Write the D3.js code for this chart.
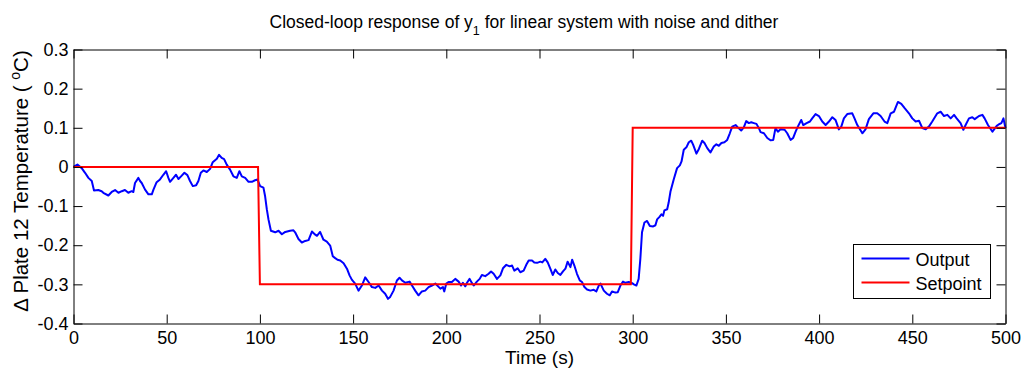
<!DOCTYPE html>
<html>
<head>
<meta charset="utf-8">
<script src="https://cdn.jsdelivr.net/npm/d3@7"></script>
<style>
  html, body { margin: 0; padding: 0; background: #fff; }
  svg { display: block; font-family: "Liberation Sans", Arial, Helvetica, sans-serif; }
</style>
</head>
<body>
<svg id="chart" width="1026" height="371"></svg>
<script>
// ---------------- data ----------------
const outputTime = [0,2.1,4.4,6.2,8.0,9.8,11.0,13.3,15.1,16.0,18.7,20.5,22.3,24.1,25.9,27.6,29.4,31.2,32.1,33.0,34.8,35.7,36.6,38.4,40.2,42.0,42.9,44.6,46.4,48.2,49.7,50.9,51.8,53.6,55.0,56.3,57.7,59.5,61.1,62.5,64.0,65.8,67.0,68.3,69.7,71.5,73.3,74.7,76.9,78.1,79.5,80.8,82.2,84.0,85.8,87.6,89.0,90.3,92.1,93.9,95.7,97.4,
98.7,100.1,101.9,102.8,103.7,104.6,105.9,108.2,110.0,111.8,113.6,116.2,118.0,118.9,120.7,122.5,124.3,126.1,127.9,129.7,130.6,132.3,133.2,134.1,135.9,137.7,139.1,140.4,141.6,143.1,144.9,146.7,148.1,149.3,151.1,152.9,154.7,156.5,158.3,160.1,161.9,163.7,165.5,167.2,168.7,169.9,171.7,173.5,174.9,176.2,178.0,180.3,182.1,183.3,185.1,186.9,188.7,190.5,192.3,194.1,
196.8,198.2,198.9,200.0,201.2,203.0,204.8,206.6,207.9,208.9,210.2,211.1,212.5,213.8,214.7,216.4,217.9,219.1,220.9,222.7,224.0,225.4,227.2,229.0,230.4,232.2,234.0,235.3,236.5,238.3,239.7,241.5,242.9,244.2,246.0,247.2,248.7,250.5,251.5,253.1,254.4,255.8,257.1,258.5,259.8,261.2,262.6,263.9,265.1,266.6,267.5,268.7,270.1,271.6,272.8,274.1,275.5,277.3,279.1,280.5,281.8,
282.7,284.5,286.2,287.7,288.9,290.7,292.0,293.4,294.8,296.1,297.9,299.7,300.6,302.0,303.2,304.1,305.0,306.3,307.7,309.2,311.0,312.2,313.1,314.5,315.4,316.3,317.0,318.5,319.3,320.3,322.0,323.8,325.3,326.2,327.4,328.8,330.1,331.4,332.4,334.2,335.5,337.3,338.5,340.0,341.7,343.5,344.9,346.2,347.6,349.2,350.7,352.1,353.4,355.2,356.4,358.2,359.6,360.9,362.3,363.6,365.0,366.4,367.7,368.6,370.4,372.2,373.9,375.4,376.6,377.9,379.3,
381.5,382.9,384.7,386.1,387.4,388.6,390.4,391.5,393.3,395.1,396.3,398.1,399.9,401.7,403.5,405.3,407.1,408.8,410.6,411.9,413.3,415.1,417.8,419.0,420.5,423.2,424.9,426.7,429.1,431.2,433.0,435.1,436.6,438.4,440.2,442.3,444.1,445.9,448.2,450.0,451.8,453.6,455.4,457.2,458.9,460.7,463.4,465.2,467.0,468.8,470.6,472.4,473.8,475.9,477.4,478.6,480.4,482.2,483.5,485.8,487.6,488.8,490.6,493.0,495.3,496.5,497.8,498.9,500.0];

const outputValue = [0.000,0.006,-0.003,-0.015,-0.028,-0.036,-0.060,-0.059,-0.062,-0.066,-0.073,-0.064,-0.059,-0.066,-0.062,-0.059,-0.066,-0.062,-0.064,-0.041,-0.028,-0.036,-0.041,-0.058,-0.070,-0.070,-0.058,-0.039,-0.032,-0.020,-0.011,-0.028,-0.038,-0.028,-0.020,-0.031,-0.024,-0.015,-0.021,-0.036,-0.049,-0.047,-0.036,-0.015,-0.009,-0.013,-0.005,0.012,0.021,0.031,0.023,0.020,0.006,-0.007,-0.024,-0.028,-0.011,-0.024,-0.028,-0.038,-0.038,-0.034,
-0.032,-0.049,-0.053,-0.075,-0.108,-0.134,-0.163,-0.167,-0.163,-0.172,-0.166,-0.163,-0.162,-0.167,-0.184,-0.193,-0.189,-0.187,-0.165,-0.173,-0.176,-0.166,-0.176,-0.186,-0.191,-0.201,-0.228,-0.233,-0.237,-0.239,-0.246,-0.260,-0.277,-0.288,-0.298,-0.316,-0.303,-0.282,-0.294,-0.307,-0.309,-0.303,-0.316,-0.324,-0.337,-0.332,-0.316,-0.290,-0.283,-0.290,-0.296,-0.293,-0.307,-0.316,-0.328,-0.318,-0.316,-0.307,-0.303,-0.298,
-0.311,-0.307,-0.318,-0.298,-0.294,-0.294,-0.286,-0.293,-0.303,-0.296,-0.305,-0.296,-0.286,-0.297,-0.303,-0.293,-0.286,-0.276,-0.279,-0.273,-0.267,-0.273,-0.286,-0.277,-0.259,-0.250,-0.254,-0.252,-0.265,-0.259,-0.269,-0.265,-0.250,-0.239,-0.239,-0.244,-0.245,-0.242,-0.244,-0.235,-0.244,-0.260,-0.276,-0.262,-0.271,-0.276,-0.267,-0.260,-0.242,-0.256,-0.237,-0.252,-0.273,-0.290,-0.294,-0.307,-0.313,-0.316,-0.314,-0.318,-0.303,
-0.298,-0.316,-0.324,-0.328,-0.318,-0.321,-0.320,-0.303,-0.293,-0.296,-0.294,-0.297,-0.300,-0.303,-0.286,-0.235,-0.167,-0.142,-0.138,-0.151,-0.152,-0.149,-0.134,-0.127,-0.121,-0.125,-0.111,-0.108,-0.091,-0.062,-0.032,-0.003,0.004,0.014,0.044,0.050,0.063,0.067,0.057,0.034,0.046,0.067,0.061,0.048,0.037,0.052,0.058,0.054,0.061,0.063,0.069,0.086,0.103,0.107,0.101,0.093,0.101,0.117,0.112,0.114,0.112,0.110,0.099,0.089,0.086,0.074,0.068,0.069,0.099,0.090,0.096,
0.095,0.086,0.069,0.074,0.090,0.103,0.120,0.107,0.112,0.116,0.124,0.135,0.130,0.116,0.107,0.116,0.127,0.120,0.096,0.103,0.124,0.135,0.137,0.124,0.107,0.086,0.096,0.122,0.137,0.137,0.130,0.116,0.112,0.137,0.141,0.166,0.161,0.150,0.137,0.124,0.116,0.118,0.099,0.096,0.103,0.116,0.137,0.141,0.130,0.133,0.124,0.133,0.124,0.112,0.095,0.107,0.124,0.127,0.122,0.130,0.133,0.124,0.107,0.090,0.105,0.109,0.112,0.124,0.099];

const setpointTime  = [0, 99, 100, 299, 300, 500];
const setpointValue = [0, 0, -0.3, -0.3, 0.1, 0.1];

const xTicks = [0, 50, 100, 150, 200, 250, 300, 350, 400, 450, 500];
const xTickLabels = ["0","50","100","150","200","250","300","350","400","450","500"];
const yTicks = [0.3, 0.2, 0.1, 0, -0.1, -0.2, -0.3, -0.4];
const yTickLabels = ["0.3","0.2","0.1","0","-0.1","-0.2","-0.3","-0.4"];

const seriesNames = ["Output", "Setpoint"];
const seriesColors = ["#0000ff", "#ff0000"];

// ---------------- layout ----------------
const L = 73.5, R = 1005.5, T = 49.5, B = 323.5;
const FONT = 18;

const svg = d3.select("#chart");
const x = d3.scaleLinear().domain([0, 500]).range([L, R]);
const y = d3.scaleLinear().domain([-0.4, 0.3]).range([B, T]);

// ---------------- lines ----------------
const outData = outputTime.map((t, i) => [t, outputValue[i]]);
const spData = setpointTime.map((t, i) => [t, setpointValue[i]]);
const line = d3.line().x(d => x(d[0])).y(d => y(d[1]));

const plot = svg.append("g");
plot.append("path").datum(outData)
  .attr("d", line).attr("fill", "none")
  .attr("stroke", seriesColors[0]).attr("stroke-width", 2)
  .attr("stroke-linejoin", "round");
plot.append("path").datum(spData)
  .attr("d", line).attr("fill", "none")
  .attr("stroke", seriesColors[1]).attr("stroke-width", 2);

// ---------------- axes ----------------
function styleAxis(g) {
  g.selectAll(".domain").attr("stroke", "#000").attr("stroke-width", 1);
  g.selectAll(".tick line").attr("stroke", "#000").attr("stroke-width", 1);
  g.selectAll(".tick text").attr("fill", "#000").style("font-size", FONT + "px")
    .style("font-family", '"Liberation Sans", Arial, Helvetica, sans-serif');
}

svg.append("g").attr("transform", `translate(0,${B})`)
  .call(d3.axisBottom(x).tickValues(xTicks).tickFormat((d, i) => xTickLabels[i])
    .tickSizeInner(-9).tickSizeOuter(0).tickPadding(8))
  .call(styleAxis);
svg.append("g").attr("transform", `translate(0,${T})`)
  .call(d3.axisTop(x).tickValues(xTicks).tickFormat("")
    .tickSizeInner(-9).tickSizeOuter(0))
  .call(styleAxis);
svg.append("g").attr("transform", `translate(${L},0)`)
  .call(d3.axisLeft(y).tickValues(yTicks).tickFormat((d, i) => yTickLabels[i])
    .tickSizeInner(-9).tickSizeOuter(0).tickPadding(5))
  .call(styleAxis);
svg.append("g").attr("transform", `translate(${R},0)`)
  .call(d3.axisRight(y).tickValues(yTicks).tickFormat("")
    .tickSizeInner(-9).tickSizeOuter(0))
  .call(styleAxis);

// ---------------- title ----------------
const title = svg.append("text")
  .attr("x", 524).attr("y", 27.5)
  .attr("text-anchor", "middle")
  .style("font-size", "17.5px").attr("fill", "#000");
title.append("tspan").text("Closed-loop response of y");
title.append("tspan").attr("dy", 7).style("font-size", "12.5px").text("1");
title.append("tspan").attr("dy", -7).text(" for linear system with noise and dither");

// ---------------- axis labels ----------------
svg.append("text")
  .attr("x", (L + R) / 2).attr("y", 364)
  .attr("text-anchor", "middle")
  .style("font-size", "19px").attr("fill", "#000")
  .text("Time (s)");

const yl = svg.append("text")
  .attr("transform", `translate(28,181) rotate(-90)`)
  .attr("text-anchor", "middle")
  .style("font-size", "20.5px").attr("fill", "#000");
yl.append("tspan").text("\u0394 Plate 12 Temperature ( ");
yl.append("tspan").attr("dy", -8).style("font-size", "14px").text("o");
yl.append("tspan").attr("dy", 8).text("C)");

// ---------------- legend ----------------
const lg = svg.append("g");
lg.append("rect").attr("x", 853.5).attr("y", 244.5).attr("width", 137).attr("height", 54)
  .attr("fill", "#fff").attr("stroke", "#000").attr("stroke-width", 1);
const legY = [258.5, 282.5];
seriesNames.forEach((name, i) => {
  lg.append("line").attr("x1", 861.5).attr("x2", 909.5)
    .attr("y1", legY[i]).attr("y2", legY[i])
    .attr("stroke", seriesColors[i]).attr("stroke-width", 2);
  lg.append("text").attr("x", 915.5).attr("y", legY[i] + 7)
    .style("font-size", FONT + "px").attr("fill", "#000").text(name);
});
</script>
</body>
</html>
